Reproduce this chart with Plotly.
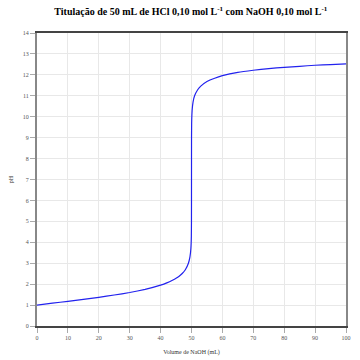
import plotly.graph_objects as go

volume_ml = [0, 5, 10, 15, 20, 25, 30, 35, 40, 42, 44, 45, 46, 47, 48, 49,
             49.5, 49.8, 49.9, 49.95, 49.99, 50, 50.01, 50.05, 50.1, 50.2,
             50.5, 51, 52, 53, 55, 57.5, 60, 65, 70, 75, 80, 85, 90, 95, 100]
ph_values = [1.00, 1.09, 1.18, 1.27, 1.37, 1.48, 1.60, 1.75, 1.95, 2.06, 2.20,
             2.28, 2.38, 2.51, 2.69, 3.00, 3.30, 3.70, 4.00, 4.30, 5.00, 7.00,
             9.00, 9.70, 10.00, 10.30, 10.70, 11.00, 11.29, 11.46, 11.68,
             11.84, 11.96, 12.12, 12.22, 12.30, 12.36, 12.41, 12.46, 12.49, 12.52]

x_ticks = [0, 10, 20, 30, 40, 50, 60, 70, 80, 90, 100]
y_ticks = list(range(0, 15))

font_family = "Liberation Serif, DejaVu Serif, serif"

fig = go.Figure()
fig.add_trace(go.Scatter(
    x=volume_ml, y=ph_values, mode="lines",
    line=dict(color="#2222ee", width=1.2, shape="spline", smoothing=0.3),
    showlegend=False, hoverinfo="skip",
))

fig.update_layout(
    width=360, height=360,
    margin=dict(l=37, r=14, t=33, b=34),
    paper_bgcolor="white", plot_bgcolor="white",
    font=dict(family=font_family, size=6, color="#444"),
    title=dict(
        text="<b>Titulação de 50 mL de HCl 0,10 mol L<sup>-1</sup> com NaOH 0,10 mol L<sup>-1</sup></b>",
        x=0.53, xanchor="center", y=0.967, yanchor="middle",
        font=dict(family=font_family, size=10, color="#000"),
    ),
)

fig.update_xaxes(
    range=[0, 100], tickvals=x_ticks, ticktext=[str(v) for v in x_ticks],
    showgrid=True, gridcolor="#e8e8e8", gridwidth=1,
    showline=True, linecolor="#444", linewidth=1.5, mirror=True,
    ticks="outside", ticklen=5, tickcolor="#aaa",
    zeroline=False, automargin=False,
    title=dict(text="Volume de NaOH (mL)", font=dict(size=6, color="#333"), standoff=10),
    tickfont=dict(size=6, color="#555"),
)
fig.update_yaxes(
    range=[0, 14], tickvals=y_ticks, ticktext=[str(v) for v in y_ticks],
    showgrid=True, gridcolor="#e8e8e8", gridwidth=1,
    showline=True, linecolor="#888", linewidth=2, mirror=True,
    ticks="outside", ticklen=5, tickcolor="#aaa",
    zeroline=False, automargin=False,
    title=dict(text="pH", font=dict(size=6, color="#333"), standoff=9),
    tickfont=dict(size=6, color="#555"),
)

fig.write_html("out.html")
